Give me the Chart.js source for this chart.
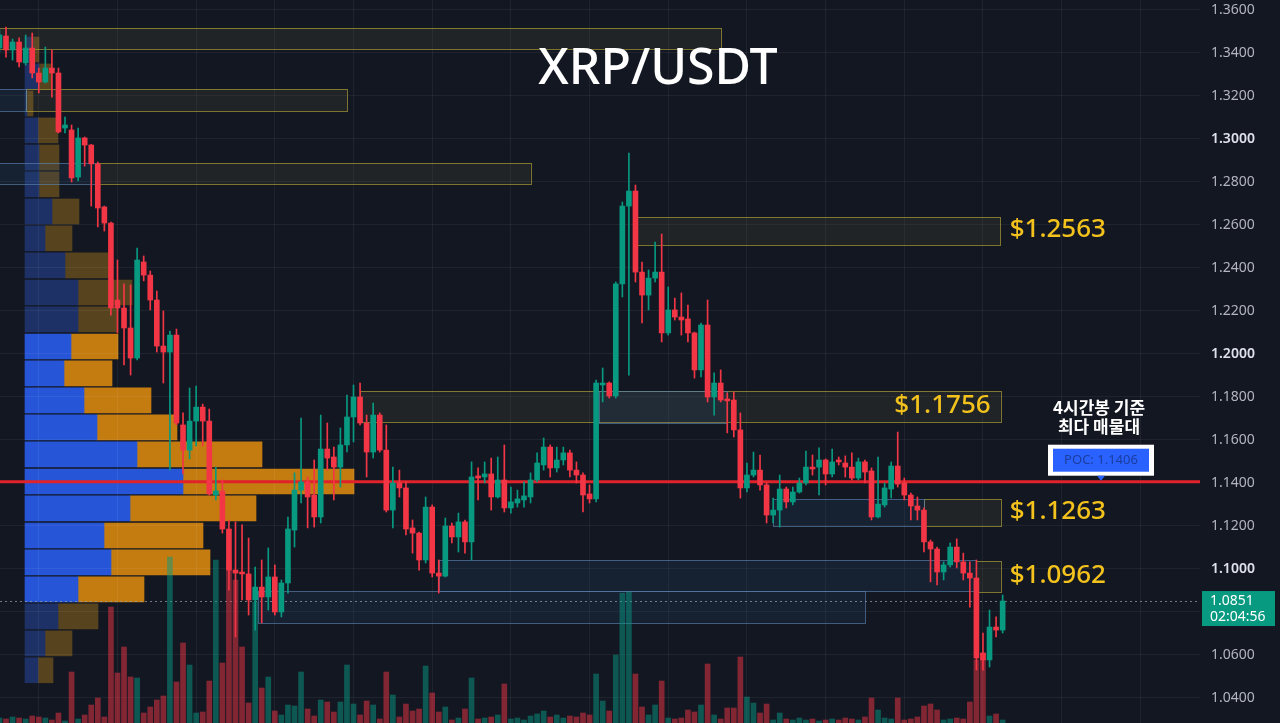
<!DOCTYPE html>
<html>
<head>
<meta charset="utf-8">
<script src="https://cdn.jsdelivr.net/npm/chart.js@4.4.1/dist/chart.umd.min.js"></script>
<style>
  html, body { margin: 0; padding: 0; background: #131722; }
  #wrap { position: relative; width: 1280px; height: 723px; background: #131722; overflow: hidden; }
  #wrap canvas { position: absolute; left: 0; top: 0; }
</style>
</head>
<body>
<div id="wrap">
  <canvas id="vp" width="1280" height="723"></canvas>
  <canvas id="main" width="1280" height="723"></canvas>
</div>
<script>
// 4h candles
var open = [1.3423,1.3479,1.3414,1.3451,1.3354,1.3423,1.3307,1.3265,1.3330,1.3307,
  1.3051,1.3042,1.2823,1.3005,1.2972,1.2884,1.2684,1.2609,1.2251,1.2214,
  1.2121,1.1981,1.2428,1.2367,1.2251,1.2037,1.2009,1.2088,1.1670,1.1553,
  1.1688,1.1753,1.1688,1.1344,1.1363,1.1186,1.0995,1.0986,1.0977,1.0856,
  1.0916,1.0870,1.0963,1.0800,1.0935,1.1181,1.1367,1.1405,1.1344,1.1242,
  1.1558,1.1521,1.1474,1.1577,1.1707,1.1800,1.1679,1.1544,1.1716,1.1553,
  1.1274,1.1400,1.1377,1.1191,1.1167,1.1042,1.1288,1.0981,1.0967,1.1200,
  1.1149,1.1219,1.1126,1.1433,1.1428,1.1442,1.1335,1.1414,1.1284,1.1307,
  1.1321,1.1335,1.1414,1.1484,1.1567,1.1470,1.1507,1.1540,1.1460,1.1437,
  1.1349,1.1326,1.1856,1.1865,1.1805,1.2326,1.2688,1.2758,1.2381,1.2274,
  1.2353,1.2381,1.2098,1.2205,1.2172,1.2163,1.2098,1.1926,1.2135,1.1800,
  1.1865,1.1791,1.1786,1.1647,1.1377,1.1437,1.1460,1.1391,1.1251,1.1274,
  1.1372,1.1312,1.1358,1.1400,1.1474,1.1474,1.1507,1.1442,1.1507,1.1493,
  1.1474,1.1423,1.1498,1.1456,1.1242,1.1298,1.1372,1.1479,1.1400,1.1344,
  1.1293,1.1274,1.1126,1.1093,1.0986,1.1019,1.1102,1.1033,1.0981,1.0958,
  1.0609,1.0577,1.0730,1.0716];
var high = [1.3507,1.3521,1.3465,1.3470,1.3484,1.3493,1.3330,1.3428,1.3414,1.3330,
  1.3102,1.3065,1.3051,1.3009,1.2975,1.2893,1.2688,1.2614,1.2437,1.2326,
  1.2321,1.2493,1.2456,1.2386,1.2293,1.2200,1.2107,1.2116,1.1726,1.1842,
  1.1851,1.1767,1.1744,1.1474,1.1414,1.1228,1.1219,1.1205,1.1144,1.1009,
  1.1042,1.1098,1.1019,1.0949,1.1242,1.1447,1.1702,1.1428,1.1507,1.1716,
  1.1679,1.1567,1.1656,1.1809,1.1856,1.1865,1.1716,1.1772,1.1726,1.1670,
  1.1474,1.1460,1.1405,1.1228,1.1172,1.1335,1.1298,1.1042,1.1237,1.1214,
  1.1260,1.1228,1.1498,1.1470,1.1498,1.1516,1.1521,1.1577,1.1381,1.1367,
  1.1405,1.1447,1.1540,1.1609,1.1577,1.1567,1.1567,1.1553,1.1498,1.1447,
  1.1391,1.1879,1.1935,1.1870,1.2335,1.2707,1.2935,1.2786,1.2428,1.2391,
  1.2521,1.2558,1.2312,1.2260,1.2284,1.2228,1.2102,1.2144,1.2251,1.1912,
  1.1926,1.1819,1.1823,1.1726,1.1493,1.1544,1.1530,1.1400,1.1330,1.1437,
  1.1381,1.1381,1.1423,1.1549,1.1530,1.1563,1.1512,1.1558,1.1521,1.1526,
  1.1540,1.1516,1.1507,1.1470,1.1521,1.1400,1.1498,1.1637,1.1423,1.1353,
  1.1335,1.1284,1.1135,1.1102,1.1033,1.1121,1.1140,1.1074,1.1033,1.1042,
  1.0702,1.0809,1.0777,1.0879];
var low = [1.3405,1.3381,1.3367,1.3335,1.3344,1.3284,1.3214,1.3260,1.3195,1.3028,
  1.3028,1.2800,1.2805,1.2874,1.2688,1.2591,1.2572,1.2181,1.2098,1.1949,
  1.1902,1.1972,1.2340,1.2205,1.2009,1.1865,1.1460,1.1670,1.1442,1.1512,
  1.1572,1.1572,1.1344,1.1321,1.1167,1.0902,1.0684,1.0856,1.0786,1.0716,
  1.0749,1.0809,1.0786,1.0777,1.0888,1.1102,1.1307,1.1191,1.1195,1.1214,
  1.1460,1.1321,1.1381,1.1544,1.1591,1.1670,1.1428,1.1516,1.1544,1.1265,
  1.1191,1.1335,1.1158,1.1074,1.0995,1.1028,1.0963,1.0888,1.0963,1.1121,
  1.1079,1.1074,1.1042,1.1321,1.1400,1.1274,1.1330,1.1265,1.1260,1.1288,
  1.1288,1.1307,1.1405,1.1460,1.1428,1.1451,1.1484,1.1428,1.1400,1.1265,
  1.1307,1.1312,1.1777,1.1795,1.1795,1.2265,1.1902,1.2335,1.2144,1.2205,
  1.2335,1.2056,1.2088,1.2158,1.2088,1.2056,1.1888,1.1893,1.1777,1.1716,
  1.1777,1.1633,1.1614,1.1330,1.1358,1.1428,1.1367,1.1214,1.1214,1.1195,
  1.1284,1.1298,1.1353,1.1391,1.1437,1.1344,1.1391,1.1428,1.1484,1.1428,
  1.1414,1.1414,1.1400,1.1228,1.1237,1.1288,1.1330,1.1381,1.1321,1.1228,
  1.1228,1.1079,1.0940,1.0926,1.0949,1.1009,1.1005,1.0949,1.0823,1.0530,
  1.0530,1.0544,1.0684,1.0702];
var close = [1.3484,1.3414,1.3451,1.3358,1.3423,1.3307,1.3265,1.3330,1.3307,1.3033,
  1.3065,1.2819,1.3005,1.2972,1.2884,1.2679,1.2609,1.2214,1.2214,1.2121,
  1.1981,1.2437,1.2367,1.2251,1.2037,1.2009,1.2088,1.1679,1.1553,1.1688,
  1.1753,1.1688,1.1349,1.1363,1.1186,1.0995,1.0981,1.0977,1.0856,1.0916,
  1.0870,1.0963,1.0800,1.0935,1.1186,1.1367,1.1405,1.1335,1.1242,1.1558,
  1.1516,1.1474,1.1577,1.1707,1.1800,1.1679,1.1544,1.1716,1.1553,1.1274,
  1.1400,1.1377,1.1186,1.1167,1.1042,1.1288,1.0981,1.0967,1.1200,1.1149,
  1.1219,1.1126,1.1428,1.1423,1.1442,1.1335,1.1414,1.1284,1.1312,1.1326,
  1.1340,1.1414,1.1493,1.1567,1.1470,1.1507,1.1540,1.1460,1.1437,1.1344,
  1.1326,1.1865,1.1865,1.1805,1.2326,1.2688,1.2758,1.2381,1.2274,1.2353,
  1.2381,1.2098,1.2205,1.2172,1.2158,1.2098,1.1926,1.2135,1.1800,1.1865,
  1.1786,1.1782,1.1647,1.1377,1.1437,1.1460,1.1391,1.1251,1.1274,1.1372,
  1.1312,1.1358,1.1400,1.1474,1.1465,1.1507,1.1442,1.1498,1.1498,1.1474,
  1.1423,1.1498,1.1451,1.1242,1.1302,1.1377,1.1479,1.1395,1.1344,1.1293,
  1.1274,1.1126,1.1093,1.0986,1.1019,1.1102,1.1033,1.0981,1.0958,1.0586,
  1.0577,1.0730,1.0716,1.0851];
var volume = [5,4,6,5,4,7,6,5,3,10,
  2,51,4,8,18,25,6,116,50,76,
  46,45,10,16,23,27,166,41,80,58,
  10,11,42,163,60,163,143,76,20,121,
  35,46,12,8,18,17,51,14,7,23,
  21,11,21,58,19,8,22,18,4,51,
  28,6,19,12,14,57,30,11,16,3,
  5,14,45,4,5,6,8,39,4,5,
  3,7,9,12,6,8,5,7,6,10,
  8,49,22,12,68,130,131,49,16,8,
  18,42,5,4,5,13,11,18,59,8,
  4,15,15,66,26,20,10,19,3,10,
  4,3,5,3,4,2,3,4,3,5,
  4,3,6,25,13,5,4,25,3,4,
  6,17,19,13,3,4,5,4,21,63,
  70,7,9,3];

// volume profile rows (price centre, buy part, sell part)
var vpPrice = [1.3416,1.3291,1.3165,1.3040,1.2914,1.2789,1.2663,1.2538,1.2412,1.2286,1.2161,1.2035,
  1.1910,1.1784,1.1659,1.1533,1.1407,1.1282,1.1156,1.1031,1.0905,1.0780,1.0654,1.0529];
var vpUp = [8,14,2,13,14,14,27,20,40,53,53,46,39,59,72,112,158,105,79,86,53,33,20,13];
var vpDown = [6,13,6,20,20,20,27,27,43,54,40,47,48,67,80,125,171,126,99,99,66,40,27,15];
var vaHigh = 1.2098, vaLow = 1.0842;
var pocPrice = 1.1406;
var lastPrice = 1.0851;

// drawn zones (candle index range, price range)
var zoneKind = ['y','y','y','y','y','y','y','b','b','b','b','b','b'];
var zoneFrom = [-5, 4, 15, 97, 55, 141, 148.9, 91.5, 118, 67, 39.5, -5, -5];
var zoneTo = [110, 53, 81, 152.7, 152.7, 152.7, 152.7, 111, 141, 148.9, 132, 4, 15];
var zoneTop = [1.3516,1.3233,1.2888,1.2637,1.1828,1.1326,1.1037,1.1828,1.1326,1.1042,1.0898,1.3233,1.2888];
var zoneBot = [1.3419,1.3130,1.2791,1.2507,1.1684,1.1200,1.0893,1.1679,1.1200,1.0898,1.0749,1.3130,1.2791];

var tagText = ['$1.2563', '$1.1756', '$1.1263', '$1.0962'];
var tagZone = [3, 4, 5, 6];
var tagInside = [false, true, false, false];

var yTicks = [1.04,1.06,1.08,1.10,1.12,1.14,1.16,1.18,1.20,1.22,1.24,1.26,1.28,1.30,1.32,1.34,1.36];
var gridIdx = [6,18,30,42,54,66,78,90,102,114,126,138,150,162,174];

var yMin = 1.02837, yMax = 1.36465;
var xMin = 0.085, xMax = 183.1;
var UP = '#089981', DOWN = '#f23645';
var gridColor = 'rgba(255,255,255,0.055)';

function isUp(i) { return close[i] >= open[i]; }
function inVA(i) { return vpPrice[i] <= vaHigh && vpPrice[i] >= vaLow; }
function isRound(c) {
  if (!c || !c.tick) return false;
  var v = c.tick.value * 10;
  return Math.abs(v - Math.round(v)) < 1e-6;
}

// ---- volume profile, drawn underneath
new Chart(document.getElementById('vp'), {
  type: 'bar',
  data: {
    datasets: [
      {
        data: vpPrice.map(function (p, i) { return { x: [0, vpUp[i]], y: p }; }),
        backgroundColor: function (c) { return inVA(c.dataIndex) ? '#2755d8' : '#1d3166'; },
        barThickness: 25, grouped: false
      },
      {
        data: vpPrice.map(function (p, i) { return { x: [vpUp[i], vpUp[i] + vpDown[i]], y: p }; }),
        backgroundColor: function (c) { return inVA(c.dataIndex) ? '#c47c10' : '#57431e'; },
        barThickness: 25, grouped: false
      }
    ]
  },
  options: {
    indexAxis: 'y', responsive: false, animation: false, events: [],
    layout: { padding: 0 },
    plugins: { legend: { display: false }, tooltip: { enabled: false } },
    scales: {
      x: { type: 'linear', display: false, min: -25, max: 1255 },
      y: { type: 'linear', display: false, min: yMin, max: yMax, offset: false, grid: { offset: false } }
    }
  }
});

// ---- zones, POC line and last price line (under candles)
var underPlugin = {
  id: 'under',
  beforeDatasetsDraw: function (chart) {
    var ctx = chart.ctx, xs = chart.scales.x, ys = chart.scales.y, a = chart.chartArea;
    ctx.save();
    ctx.beginPath();
    ctx.rect(a.left, a.top, a.right - a.left, a.bottom - a.top);
    ctx.clip();
    for (var i = 0; i < zoneKind.length; i++) {
      var x1 = xs.getPixelForValue(zoneFrom[i]), x2 = xs.getPixelForValue(zoneTo[i]);
      var y1 = ys.getPixelForValue(zoneTop[i]), y2 = ys.getPixelForValue(zoneBot[i]);
      if (zoneKind[i] === 'y') {
        ctx.fillStyle = 'rgba(115,115,70,0.15)';
        ctx.strokeStyle = 'rgba(190,175,55,0.62)';
      } else {
        ctx.fillStyle = 'rgba(45,85,135,0.16)';
        ctx.strokeStyle = 'rgba(90,130,175,0.65)';
      }
      ctx.fillRect(x1, y1, x2 - x1, y2 - y1);
      ctx.lineWidth = 1;
      ctx.strokeRect(Math.round(x1) + 0.5, Math.round(y1) + 0.5, Math.round(x2 - x1), Math.round(y2 - y1));
    }
    // last price dotted line
    var yl = Math.round(ys.getPixelForValue(lastPrice)) + 0.5;
    ctx.setLineDash([2, 3]);
    ctx.strokeStyle = 'rgba(150,165,170,0.7)';
    ctx.beginPath(); ctx.moveTo(a.left, yl); ctx.lineTo(a.right, yl); ctx.stroke();
    ctx.setLineDash([]);
    // POC line
    var yp = ys.getPixelForValue(pocPrice);
    ctx.strokeStyle = '#e0222b';
    ctx.lineWidth = 3;
    ctx.beginPath(); ctx.moveTo(a.left, yp); ctx.lineTo(a.right, yp); ctx.stroke();
    ctx.restore();
  }
};

// ---- texts and labels on top
var textPlugin = {
  id: 'texts',
  afterDraw: function (chart) {
    var ctx = chart.ctx, xs = chart.scales.x, ys = chart.scales.y, a = chart.chartArea;
    ctx.save();
    // title
    ctx.fillStyle = '#ffffff';
    ctx.textAlign = 'center';
    ctx.textBaseline = 'middle';
    ctx.font = '500 50px "Noto Sans"';
    ctx.fillText('XRP/USDT', 658, 70);

    // price tags
    ctx.font = '500 26px "Noto Sans"';
    ctx.fillStyle = '#f4c21c';
    for (var i = 0; i < tagText.length; i++) {
      var z = tagZone[i];
      var yc = ys.getPixelForValue((zoneTop[z] + zoneBot[z]) / 2) - 1;
      var xr = xs.getPixelForValue(zoneTo[z]);
      if (tagInside[i]) { ctx.textAlign = 'right'; ctx.fillText(tagText[i], xr - 10, yc); }
      else { ctx.textAlign = 'left'; ctx.fillText(tagText[i], xr + 9, yc); }
    }

    // note above POC box
    var yp = ys.getPixelForValue(pocPrice);
    var cx = a.right - 99;
    ctx.textAlign = 'center';
    ctx.fillStyle = '#ffffff';
    ctx.font = 'bold 17px "Noto Sans CJK KR"';
    ctx.fillText('4시간봉 기준', cx - 2, yp - 74);
    ctx.fillText('최다 매물대', cx - 2, yp - 55);

    // POC box
    ctx.fillStyle = '#ffffff';
    ctx.fillRect(cx - 53, yp - 37, 106, 31);
    ctx.fillStyle = '#2962ff';
    ctx.fillRect(cx - 48, yp - 33, 96, 23);
    ctx.fillStyle = '#1c3d9e';
    ctx.font = '13px "Noto Sans"';
    ctx.fillText('POC: 1.1406', cx, yp - 21);
    ctx.fillStyle = '#2962ff';
    ctx.beginPath();
    ctx.moveTo(cx - 4, yp - 6); ctx.lineTo(cx + 4, yp - 6); ctx.lineTo(cx, yp - 1);
    ctx.closePath(); ctx.fill();

    // last price badge
    var yl = ys.getPixelForValue(lastPrice);
    ctx.fillStyle = UP;
    ctx.fillRect(a.right + 2, yl - 10, 73, 35);
    ctx.fillStyle = '#ffffff';
    ctx.textAlign = 'left';
    ctx.font = '14px "Noto Sans"';
    ctx.fillText(lastPrice.toFixed(4), a.right + 10, yl + 0);
    ctx.fillText('02:04:56', a.right + 10, yl + 16);
    ctx.restore();
  }
};

var idx = open.map(function (v, i) { return i; });

new Chart(document.getElementById('main'), {
  type: 'bar',
  data: {
    datasets: [
      {
        label: 'Volume', yAxisID: 'yv', order: 3, grouped: false,
        data: idx.map(function (i) { return { x: i, y: volume[i] }; }),
        backgroundColor: idx.map(function (i) { return isUp(i) ? 'rgba(8,153,129,0.5)' : 'rgba(242,54,69,0.5)'; }),
        barThickness: 5
      },
      {
        label: 'Wick', order: 2, grouped: false,
        data: idx.map(function (i) { return { x: i, y: [low[i], high[i]] }; }),
        backgroundColor: idx.map(function (i) { return isUp(i) ? UP : DOWN; }),
        barThickness: 1
      },
      {
        label: 'Body', order: 1, grouped: false,
        data: idx.map(function (i) { return { x: i, y: [open[i], close[i]] }; }),
        backgroundColor: idx.map(function (i) { return isUp(i) ? UP : DOWN; }),
        barThickness: 5, minBarLength: 1
      }
    ]
  },
  options: {
    responsive: false, animation: false, events: [],
    layout: { padding: 0 },
    plugins: { legend: { display: false }, tooltip: { enabled: false } },
    scales: {
      x: {
        type: 'linear', min: xMin, max: xMax, offset: false,
        afterBuildTicks: function (s) { s.ticks = gridIdx.map(function (v) { return { value: v }; }); },
        afterFit: function (s) { s.height = 0; s.paddingLeft = 0; s.paddingRight = 0; },
        grid: { color: gridColor, drawTicks: false, offset: false },
        border: { display: false },
        ticks: { display: false }
      },
      y: {
        type: 'linear', position: 'right', min: yMin, max: yMax, beginAtZero: false,
        afterBuildTicks: function (s) { s.ticks = yTicks.map(function (v) { return { value: v }; }); },
        afterFit: function (s) { s.width = 80; s.paddingTop = 0; s.paddingBottom = 0; },
        grid: { color: gridColor, drawTicks: false },
        border: { display: false },
        ticks: {
          padding: 11,
          callback: function (v) { return Number(v).toFixed(4); },
          color: function (c) { return isRound(c) ? '#dfe2ea' : '#b2b5be'; },
          font: function (c) {
            return { family: 'Noto Sans', size: 14, weight: isRound(c) ? '600' : '400' };
          }
        }
      },
      yv: { display: false, min: 0, max: 723 }
    }
  },
  plugins: [underPlugin, textPlugin]
});
</script>
</body>
</html>
